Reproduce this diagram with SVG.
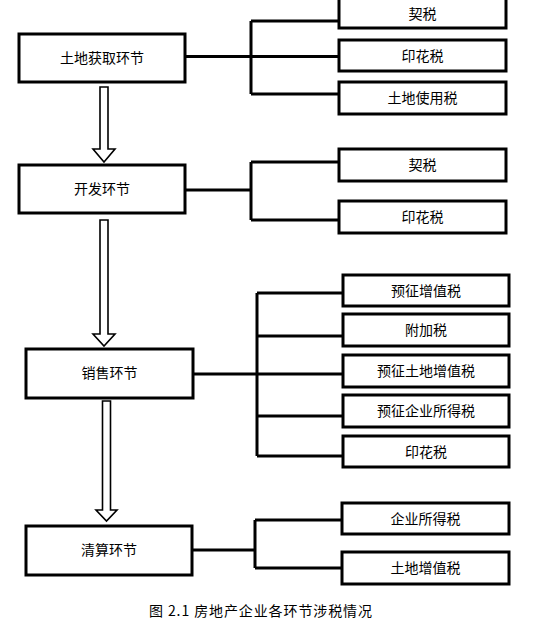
<svg xmlns="http://www.w3.org/2000/svg" width="533" height="622" viewBox="0 0 533 622">
<style>
.box{fill:#fff;stroke:#000;stroke-width:3}
.t{font-family:"Noto Sans CJK SC","Noto Sans",sans-serif;font-size:14px;fill:#000;text-anchor:middle;dominant-baseline:central}
.ln{fill:none;stroke:#000;stroke-width:3}
.ar{fill:#fff;stroke:#000;stroke-width:1.6;stroke-linejoin:miter}
.cap{font-family:"Noto Sans CJK SC","Noto Sans",sans-serif;font-size:14px;fill:#000}
</style>
<rect width="533" height="622" fill="#fff"/>
<g id="connectors">
<path class="ln" d="M185 56.5H339M251 21V94M251 21H339M251 94H339"/>
<path class="ln" d="M185 190H251M251 162V220M251 162H338M251 220H338"/>
<path class="ln" d="M193 374H343M257 293V456M257 293H343M257 336H343M257 416H343M257 456H343"/>
<path class="ln" d="M192 550H255M255 520V568M255 520H342M255 568H342"/>
<path class="ar" d="M100 87H108V149H115L104 162L93 149H100Z"/>
<path class="ar" d="M100 220H108V334H115L104 346L93 334H100Z"/>
<path class="ar" d="M102.5 401H110.5V510H117L106.5 521L96 510H102.5Z"/>
</g>
<g id="n1"><rect class="box" x="19" y="34" width="166" height="48"/><text class="t" x="102" y="57">土地获取环节</text></g>
<g id="n1a"><rect class="box" x="339" y="-3" width="167" height="31"/><text class="t" x="422.5" y="12.5">契税</text></g>
<g id="n1b"><rect class="box" x="339" y="40" width="167" height="31"/><text class="t" x="422.5" y="54.5">印花税</text></g>
<g id="n1c"><rect class="box" x="339" y="82" width="167" height="32"/><text class="t" x="422.5" y="97">土地使用税</text></g>
<g id="n2"><rect class="box" x="19" y="165" width="166" height="48"/><text class="t" x="102" y="188">开发环节</text></g>
<g id="n2a"><rect class="box" x="339" y="149" width="167" height="32"/><text class="t" x="422.5" y="164">契税</text></g>
<g id="n2b"><rect class="box" x="339" y="201" width="167" height="32"/><text class="t" x="422.5" y="216">印花税</text></g>
<g id="n3"><rect class="box" x="26" y="349" width="167" height="49"/><text class="t" x="109.5" y="372">销售环节</text></g>
<g id="n3a"><rect class="box" x="343" y="275" width="166" height="31"/><text class="t" x="426" y="289.5">预征增值税</text></g>
<g id="n3b"><rect class="box" x="343" y="314" width="166" height="32"/><text class="t" x="426" y="329">附加税</text></g>
<g id="n3c"><rect class="box" x="343" y="355" width="166" height="32"/><text class="t" x="426" y="370">预征土地增值税</text></g>
<g id="n3d"><rect class="box" x="343" y="395" width="166" height="32"/><text class="t" x="426" y="410">预征企业所得税</text></g>
<g id="n3e"><rect class="box" x="343" y="436" width="166" height="31"/><text class="t" x="426" y="450.5">印花税</text></g>
<g id="n4"><rect class="box" x="26" y="526" width="166" height="49"/><text class="t" x="109" y="549">清算环节</text></g>
<g id="n4a"><rect class="box" x="342" y="503" width="167" height="31"/><text class="t" x="425.5" y="517.5">企业所得税</text></g>
<g id="n4b"><rect class="box" x="342" y="552" width="167" height="32"/><text class="t" x="425.5" y="567">土地增值税</text></g>
<text class="cap" x="149" y="616" textLength="223" lengthAdjust="spacing">图 2.1 房地产企业各环节涉税情况</text>
</svg>
